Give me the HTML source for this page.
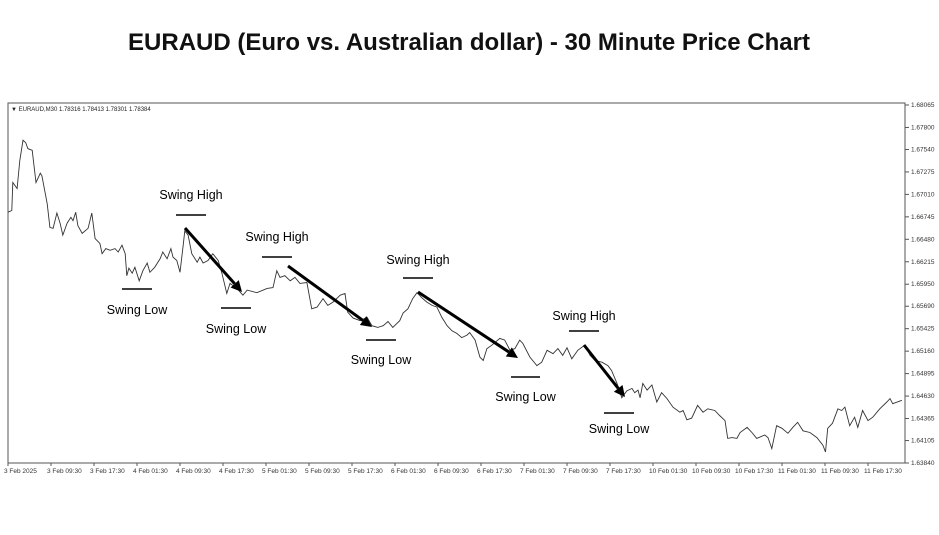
<!DOCTYPE html>
<html><head><meta charset="utf-8"><style>
body{margin:0;background:#fff;width:939px;height:530px;overflow:hidden;font-family:"Liberation Sans",Arial,sans-serif}
</style></head><body>
<svg width="939" height="530" xmlns="http://www.w3.org/2000/svg">
<text x="469" y="50" text-anchor="middle" font-size="24" font-weight="bold" fill="#111">EURAUD (Euro vs. Australian dollar) - 30 Minute Price Chart</text>
<rect x="8" y="103" width="897" height="360" fill="none" stroke="#555" stroke-width="1"/>
<text x="11" y="111" font-size="6" fill="#222">▼ EURAUD,M30  1.78316 1.78413 1.78301 1.78384</text>
<g id="yaxis"></g>
<g id="xaxis"></g>
<path id="priceLine" fill="none" stroke="#333" stroke-width="0.9"/>
<g id="annot"></g>
</svg>
<script>
const times=[0,0.7,0.9,1.7,2.2,2.8,3.3,3.7,4.5,5.2,6.0,6.3,7.3,7.8,8.4,9.1,9.7,10.2,11.0,11.7,12.1,12.6,13.0,13.8,14.9,15.6,16.2,17.1,17.5,18.2,19.0,19.9,20.5,21.2,21.8,22.1,22.5,23.1,23.6,24.4,25.1,25.9,26.4,27.3,28.3,28.8,29.6,30.3,30.7,31.4,32.0,32.6,32.9,33.5,34.2,35.2,35.7,36.3,37.2,38.1,39.1,39.8,40.7,41.3,42.6,43.7,44.5,46.3,48.2,49.3,50.0,50.6,51.5,52.5,53.4,54.3,55.6,56.5,57.5,58.6,59.5,60.5,61.8,62.7,63.2,64.2,65.5,66.8,67.7,68.8,69.8,70.7,71.6,72.9,73.5,74.4,75.3,76.1,77.0,77.9,78.9,79.8,80.7,81.7,82.6,83.5,84.4,85.4,85.9,86.9,87.8,88.4,89.1,90.0,91.5,92.4,93.4,94.3,95.2,95.8,97.1,98.4,99.3,100.3,101.4,102.3,103.2,104.0,104.9,106.0,107.3,108.3,109.2,110.5,111.6,112.3,113.3,114.2,115.1,116.1,116.6,117.2,117.6,118.1,118.9,119.8,120.7,121.6,122.6,123.7,125.0,125.6,126.3,127.2,128.3,129.3,130.2,131.5,132.4,133.4,133.9,134.7,135.6,136.2,137.5,138.4,139.3,140.8,141.4,142.1,143.0,144.0,145.1,146.0,146.9,147.9,149.2,150.5,151.6,152.1,152.5,153.4,154.4,155.1,155.7,156.6,157.5,158.1,159.0,160.0,160.9,162.2,163.5,164.1,164.6,166.3];
const prices=[1.6680,1.6682,1.6715,1.6708,1.6741,1.6765,1.6762,1.6755,1.6753,1.6715,1.6726,1.6723,1.6690,1.6662,1.6661,1.6679,1.6667,1.6653,1.6667,1.6674,1.6670,1.6680,1.6664,1.6655,1.6661,1.6679,1.6649,1.6643,1.6631,1.6637,1.6635,1.6637,1.6633,1.6641,1.6631,1.6605,1.6614,1.6608,1.6615,1.6599,1.6611,1.6620,1.6609,1.6615,1.6625,1.6633,1.6625,1.6637,1.6627,1.6623,1.6609,1.6641,1.6658,1.6653,1.6631,1.6621,1.6627,1.6620,1.6623,1.6631,1.6623,1.6608,1.6584,1.6596,1.6590,1.6582,1.6588,1.6585,1.6590,1.6591,1.6611,1.6603,1.6605,1.6599,1.6603,1.6596,1.6597,1.6566,1.6568,1.6578,1.6570,1.6574,1.6582,1.6584,1.6562,1.6555,1.6552,1.6556,1.6546,1.6544,1.6546,1.6551,1.6544,1.6552,1.6561,1.6566,1.6578,1.6585,1.6579,1.6574,1.6570,1.6568,1.6556,1.6546,1.6540,1.6537,1.6532,1.6535,1.6538,1.6529,1.6509,1.6505,1.6519,1.6523,1.6531,1.6529,1.6517,1.6519,1.6529,1.6525,1.6509,1.6499,1.6503,1.6517,1.6513,1.6519,1.6511,1.6520,1.6507,1.6517,1.6523,1.6511,1.6505,1.6503,1.6499,1.6493,1.6478,1.6461,1.6469,1.6472,1.6467,1.6470,1.6461,1.6478,1.6470,1.6476,1.6456,1.6467,1.6460,1.6450,1.6444,1.6446,1.6435,1.6437,1.6452,1.6444,1.6448,1.6446,1.6440,1.6434,1.6413,1.6414,1.6413,1.6420,1.6426,1.6420,1.6413,1.6417,1.6414,1.6401,1.6428,1.6425,1.6419,1.6426,1.6432,1.6422,1.6420,1.6414,1.6405,1.6397,1.6425,1.6431,1.6448,1.6446,1.6450,1.6428,1.6438,1.6426,1.6446,1.6434,1.6438,1.6448,1.6456,1.6460,1.6454,1.6458];
const yTicks=["1.68065","1.67800","1.67540","1.67275","1.67010","1.66745","1.66480","1.66215","1.65950","1.65690","1.65425","1.65160","1.64895","1.64630","1.64365","1.64105","1.63840"];
const xTicks=["3 Feb 2025","3 Feb 09:30","3 Feb 17:30","4 Feb 01:30","4 Feb 09:30","4 Feb 17:30","5 Feb 01:30","5 Feb 09:30","5 Feb 17:30","6 Feb 01:30","6 Feb 09:30","6 Feb 17:30","7 Feb 01:30","7 Feb 09:30","7 Feb 17:30","10 Feb 01:30","10 Feb 09:30","10 Feb 17:30","11 Feb 01:30","11 Feb 09:30","11 Feb 17:30"];
const NS='http://www.w3.org/2000/svg';
const yMax=1.68065,yMin=1.63840,plotTop=105,plotBot=463;
function yS(p){return plotTop+(yMax-p)/(yMax-yMin)*(plotBot-plotTop);}
function xS(t){return 8+t*43/8;}
const ya=document.getElementById('yaxis');
yTicks.forEach(v=>{const y=yS(parseFloat(v));
 const l=document.createElementNS(NS,'line');l.setAttribute('x1',905);l.setAttribute('x2',909);l.setAttribute('y1',y);l.setAttribute('y2',y);l.setAttribute('stroke','#555');
 
 ya.appendChild(l);
 const t=document.createElementNS(NS,'text');t.setAttribute('x',911);t.setAttribute('y',y+2);t.setAttribute('font-size','6.5');t.setAttribute('fill','#333');t.textContent=v;
 
 ya.appendChild(t);});
const xa=document.getElementById('xaxis');
xTicks.forEach((v,i)=>{const x=xS(i*8);
 const l=document.createElementNS(NS,'line');l.setAttribute('x1',x);l.setAttribute('x2',x);l.setAttribute('y1',463);l.setAttribute('y2',466);l.setAttribute('stroke','#555');
 
 xa.appendChild(l);
 const t=document.createElementNS(NS,'text');t.setAttribute('x',x-4);t.setAttribute('y',473);t.setAttribute('font-size','6.5');t.setAttribute('fill','#333');t.textContent=v;
 
 xa.appendChild(t);});
document.getElementById('priceLine').setAttribute('d',times.map((t,i)=>(i?'L':'M')+xS(t).toFixed(1)+','+yS(prices[i]).toFixed(1)).join(''));
const an=document.getElementById('annot');
const marks=[["Swing Low",122,152,289,314],["Swing High",176,206,215,199],["Swing Low",221,251,308,333],["Swing High",262,292,257,241],["Swing Low",366,396,340,364],["Swing High",403,433,278,264],["Swing Low",511,540,377,401],["Swing High",569,599,331,320],["Swing Low",604,634,413,433]];
marks.forEach(m=>{const l=document.createElementNS(NS,'line');l.setAttribute('x1',m[1]);l.setAttribute('x2',m[2]);l.setAttribute('y1',m[3]);l.setAttribute('y2',m[3]);l.setAttribute('stroke','#000');l.setAttribute('stroke-width','1.6');
 
 an.appendChild(l);
 const t=document.createElementNS(NS,'text');t.setAttribute('x',(m[1]+m[2])/2);t.setAttribute('y',m[4]);t.setAttribute('text-anchor','middle');t.setAttribute('font-size','12.5');t.setAttribute('fill','#000');t.textContent=m[0];
 
 an.appendChild(t);});
const arrows=[[185,228,242,292],[288,266,372,327],[418,292,518,358],[584,345,625,397]];
arrows.forEach(a=>{const dx=a[2]-a[0],dy=a[3]-a[1],L=Math.hypot(dx,dy),ux=dx/L,uy=dy/L;
 const hx=a[2]-ux*11,hy=a[3]-uy*11;
 const l=document.createElementNS(NS,'line');l.setAttribute('x1',a[0]);l.setAttribute('y1',a[1]);l.setAttribute('x2',hx);l.setAttribute('y2',hy);l.setAttribute('stroke','#000');l.setAttribute('stroke-width','3');
 
 an.appendChild(l);
 const p=document.createElementNS(NS,'polygon');
 p.setAttribute('points',`${a[2]},${a[3]} ${hx-uy*5.5},${hy+ux*5.5} ${hx+uy*5.5},${hy-ux*5.5}`);p.setAttribute('fill','#000');
 
 an.appendChild(p);});
</script>
</body></html>
